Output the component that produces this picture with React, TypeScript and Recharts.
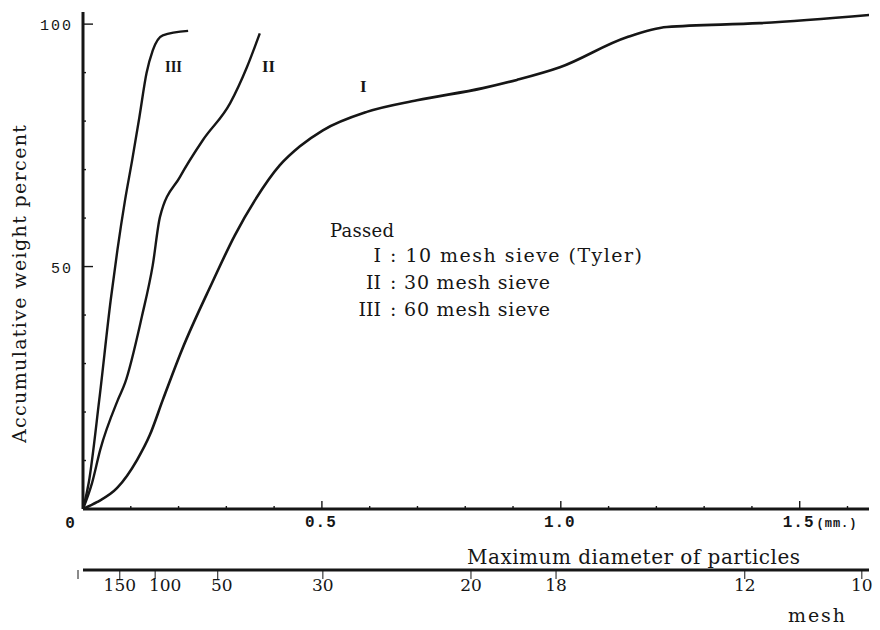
import React from 'react';
import { LineChart, Line, XAxis, YAxis, Customized } from 'recharts';

// particle size in mm (x) vs accumulative weight percent (y)
const CURVE_I_MM = [0, 0.029, 0.071, 0.113, 0.14, 0.167, 0.207, 0.27, 0.318, 0.36, 0.412, 0.454, 0.502, 0.594, 0.699, 0.837, 0.908, 0.998, 1.138, 1.222, 1.416, 1.646];
const CURVE_I_PCT = [0, 1.4, 4.3, 10.1, 15.3, 22.5, 32.8, 46.6, 56.5, 63.7, 70.9, 74.8, 78.1, 81.9, 84.3, 86.8, 88.5, 91.1, 97.3, 99.4, 100.2, 101.9];

const CURVE_II_MM = [0, 0.019, 0.036, 0.073, 0.088, 0.123, 0.146, 0.161, 0.203, 0.251, 0.308, 0.343, 0.37];
const CURVE_II_PCT = [0, 5.4, 12.2, 22.5, 26.0, 39.6, 50.3, 60.2, 68.5, 76.1, 83.7, 91.1, 98.1];

const CURVE_III_MM = [0, 0.012, 0.034, 0.058, 0.072, 0.088, 0.103, 0.118, 0.133, 0.146, 0.167, 0.22];
const CURVE_III_PCT = [0, 5.4, 22.5, 43.1, 53.4, 63.7, 72.0, 80.8, 89.9, 94.6, 97.7, 98.6];

// axis ticks
const MM_TICKS = [0, 0.1, 0.2, 0.3, 0.4, 0.5, 0.6, 0.7, 0.8, 0.9, 1.0, 1.1, 1.2, 1.3, 1.4, 1.5, 1.6];
const MM_LABELS = ['0', '', '', '', '', '0.5', '', '', '', '', '1.0', '', '', '', '', '1.5', ''];
const PCT_TICKS = [0, 10, 20, 30, 40, 50, 60, 70, 80, 90, 100];
const PCT_LABELS = ['', '', '', '', '', '50', '', '', '', '', '100'];
const MESH_MM = [0, 0.077, 0.151, 0.282, 0.502, 0.812, 0.99, 1.385, 1.63];
const MESH_LABELS = ['', '150', '100', '50', '30', '20', '18', '12', '10'];

const LEGEND_NUMERALS = ['I', 'II', 'III'];
const LEGEND_TEXTS = [': 10 mesh sieve (Tyler)', ': 30 mesh sieve', ': 60 mesh sieve'];

const INK = '#161616';
const SERIF = '"DejaVu Serif", serif';
const MONO = '"Liberation Mono", monospace';

const toRows = (mm: number[], pct: number[]) => mm.map((v, i) => ({ mm: v, pct: pct[i] }));
const dataI = toRows(CURVE_I_MM, CURVE_I_PCT);
const dataII = toRows(CURVE_II_MM, CURVE_II_PCT);
const dataIII = toRows(CURVE_III_MM, CURVE_III_PCT);

const MmTick = (props: any) => {
    const { x, y, payload } = props;
    const i = MM_TICKS.findIndex(t => Math.abs(t - payload.value) < 1e-6);
    const label = MM_LABELS[i] || '';
    const major = label !== '' && label !== '0';
    return (
        <g>
            {payload.value > 0 && (
                <line x1={x} x2={x} y1={y} y2={y - (major ? 8 : 3)} stroke={INK} strokeWidth={1.4} />
            )}
            {label === '0' && (
                <text x={x - 13} y={y + 19} textAnchor="middle" fontFamily={MONO} fontWeight="bold" fontSize={16} fill={INK}>0</text>
            )}
            {label === '0.5' || label === '1.0' ? (
                <text x={x - 1} y={y + 18} textAnchor="middle" fontFamily={MONO} fontWeight="bold" fontSize={16} letterSpacing={1} fill={INK}>{label}</text>
            ) : null}
            {label === '1.5' && (
                <text x={x - 17} y={y + 18} fontFamily={MONO} fontWeight="bold" fontSize={16} letterSpacing={1} fill={INK}>
                    {label}
                    <tspan fontSize={12} dx={2}>(mm.)</tspan>
                </text>
            )}
        </g>
    );
};

const MeshTick = (props: any) => {
    const { x, y, payload } = props;
    const i = MESH_MM.findIndex(t => Math.abs(t - payload.value) < 1e-6);
    const label = MESH_LABELS[i] || '';
    const nudge = label === '100' ? 10 : label === '50' ? 4 : 0;
    return (
        <g>
            <line x1={i === 0 ? x - 5 : x} x2={i === 0 ? x - 5 : x} y1={y} y2={y + 9} stroke={INK} strokeWidth={1} />
            {label && (
                <text x={x + nudge} y={y + 21} textAnchor="middle" fontFamily={SERIF} fontSize={17} fill={INK}>{label}</text>
            )}
        </g>
    );
};

const PctTick = (props: any) => {
    const { x, y, payload } = props;
    const i = PCT_TICKS.indexOf(payload.value);
    const label = PCT_LABELS[i] || '';
    if (payload.value === 0) return <g />;
    return (
        <g>
            <line x1={x} x2={x + (label ? 10 : 3)} y1={y} y2={y} stroke={INK} strokeWidth={1.4} />
            {label && (
                <text x={x - 10} y={y + 6} textAnchor="end" fontFamily={MONO} fontSize={15} letterSpacing={2} fill={INK}>{label}</text>
            )}
        </g>
    );
};

const Annotations = () => (
    <g fill={INK}>
        <text x={20} y={284} transform="rotate(-90 20 284)" dy={6} textAnchor="middle" fontFamily={SERIF} fontSize={19} textLength={318} lengthAdjust="spacing">
            Accumulative weight percent
        </text>
        <text x={165} y={72} fontFamily={'"Liberation Serif", serif'} fontWeight="bold" fontSize={17} textLength={17} lengthAdjust="spacingAndGlyphs">III</text>
        <text x={262} y={72} fontFamily={'"Liberation Serif", serif'} fontWeight="bold" fontSize={17} textLength={13} lengthAdjust="spacingAndGlyphs">II</text>
        <text x={360} y={92} fontFamily={'"Liberation Serif", serif'} fontWeight="bold" fontSize={17}>I</text>

        <text x={330} y={237} fontFamily={SERIF} fontSize={18} textLength={64} lengthAdjust="spacing">Passed</text>
        {LEGEND_NUMERALS.map((n, i) => (
            <g key={n}>
                <text x={381} y={262 + i * 27} textAnchor="end" fontFamily={SERIF} fontSize={19}>{n}</text>
                <text x={390} y={262 + i * 27} fontFamily={SERIF} fontSize={19} textLength={i === 0 ? 252 : 160} lengthAdjust="spacing">{LEGEND_TEXTS[i]}</text>
            </g>
        ))}

        <text x={467} y={564} fontFamily={SERIF} fontSize={20} textLength={333} lengthAdjust="spacing">Maximum diameter of particles</text>
        <text x={788} y={622} fontFamily={SERIF} fontSize={19} textLength={57} lengthAdjust="spacing">mesh</text>
    </g>
);

const App: React.FC = () => {
    return (
        <div style={{ position: 'absolute', left: 0, top: 0, width: 880, height: 630, background: '#fff' }}>
            <LineChart width={880} height={630} margin={{ top: 12, right: 11, bottom: 0, left: 0 }}>
                <XAxis
                    dataKey="mm"
                    type="number"
                    domain={[0, 1.645]}
                    allowDataOverflow
                    ticks={MM_TICKS}
                    interval={0}
                    tick={<MmTick />}
                    tickSize={0}
                    tickMargin={0}
                    tickLine={false}
                    stroke={INK}
                    strokeWidth={3}
                    axisLine={{ stroke: INK, strokeWidth: 3 }}
                    height={61}
                />
                <XAxis
                    xAxisId="mesh"
                    dataKey="mm"
                    type="number"
                    domain={[0, 1.645]}
                    allowDataOverflow
                    ticks={MESH_MM}
                    interval={0}
                    tick={<MeshTick />}
                    tickSize={0}
                    tickMargin={0}
                    tickLine={false}
                    stroke={INK}
                    strokeWidth={3}
                    axisLine={{ stroke: INK, strokeWidth: 3 }}
                    height={60}
                />
                <YAxis
                    type="number"
                    domain={[0, 102.5]}
                    allowDataOverflow
                    ticks={PCT_TICKS}
                    interval={0}
                    tick={<PctTick />}
                    tickSize={0}
                    tickMargin={0}
                    tickLine={false}
                    stroke={INK}
                    strokeWidth={3}
                    axisLine={{ stroke: INK, strokeWidth: 3 }}
                    width={83}
                />
                <Line data={dataI} dataKey="pct" type="monotone" stroke={INK} strokeWidth={2.6} dot={false} isAnimationActive={false} />
                <Line data={dataII} dataKey="pct" type="monotone" stroke={INK} strokeWidth={2.4} dot={false} isAnimationActive={false} />
                <Line data={dataIII} dataKey="pct" type="monotone" stroke={INK} strokeWidth={2.4} dot={false} isAnimationActive={false} />
                <Customized component={Annotations} />
            </LineChart>
        </div>
    );
};

export default App;
